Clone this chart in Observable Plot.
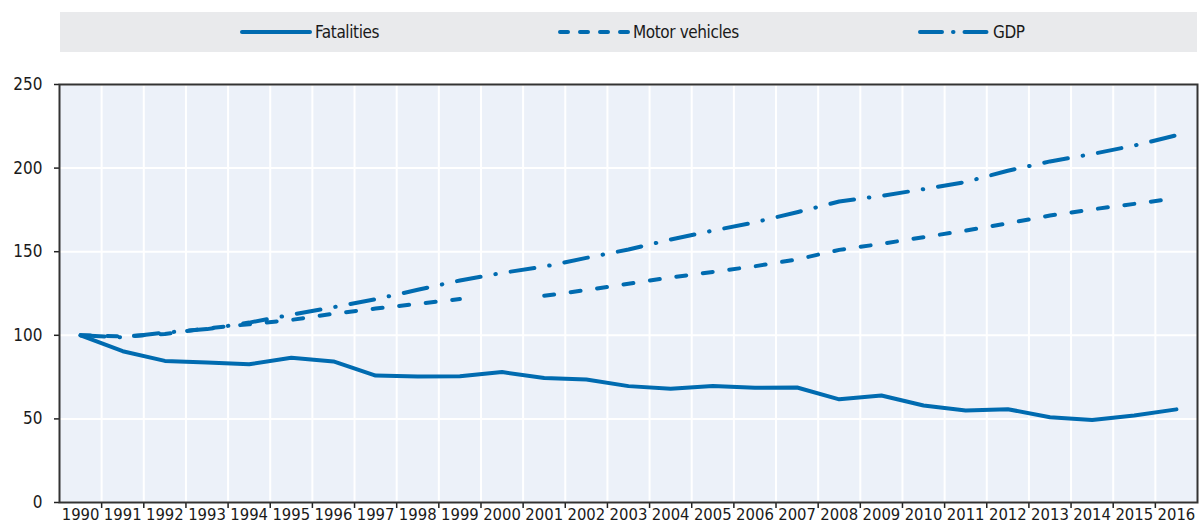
<!DOCTYPE html>
<html>
<head>
<meta charset="utf-8">
<script src="https://cdn.jsdelivr.net/npm/d3@7"></script>
<script src="https://cdn.jsdelivr.net/npm/@observablehq/plot@0.6"></script>
<style>
  html, body { margin: 0; padding: 0; background: #fff; }
  body { width: 1200px; height: 527px; position: relative; overflow: hidden;
         font-family: "DejaVu Sans Condensed", "Liberation Sans Narrow", "Arial Narrow", sans-serif; font-stretch: condensed; }
  #legend { position: absolute; left: 60px; top: 12px; width: 1137px; height: 40px; background: #e9eaec; }
  .item { position: absolute; top: 0; height: 40px; display: flex; align-items: center; font-size: 17px; color: #1a1a1a; letter-spacing: -0.4px; }
  .item svg { margin-right: 3px; }
  #chart { position: absolute; left: 0; top: 60px; }
</style>
</head>
<body>
<div id="legend"></div>
<div id="chart"></div>
<script>
const years = [1990,1991,1992,1993,1994,1995,1996,1997,1998,1999,2000,2001,2002,2003,2004,2005,2006,2007,2008,2009,2010,2011,2012,2013,2014,2015,2016];
const fatalities = [100,90.5,84.7,83.7,82.7,86.6,84.4,75.9,75.3,75.5,78,74.5,73.6,69.6,68,69.7,68.6,68.8,61.7,64,58,55,55.8,51,49.3,52,55.7];
const motorVehicles = [100,99.3,100.8,104.2,106.6,109.2,112.9,116,118.8,121.7,null,123.6,127.1,130.8,134.6,137.9,141.3,145.4,151.1,154.7,158.7,162.6,167,171.6,175.3,178.6,182];
const gdp = [100,98.8,101.6,103.7,107.6,112.3,116.8,121.6,127.2,132.8,137.3,141.1,146.3,151.3,157.3,162.6,167.6,173.6,180,183.4,187.4,191.7,198.4,204,208.4,213.5,219.6];
const seriesNames = ["Fatalities", "Motor vehicles", "GDP"];
const yTicks = [0, 50, 100, 150, 200, 250];

const blue = "#006bb0";
const fontStack = '"DejaVu Sans Condensed", "Liberation Sans Narrow", "Arial Narrow", sans-serif';
const dashes = {"Fatalities": null, "Motor vehicles": "10,16.7", "GDP": "24,15,0.5,15"};
const seriesValues = {"Fatalities": fatalities, "Motor vehicles": motorVehicles, "GDP": gdp};

// legend
const legendPos = {"Fatalities": 240, "Motor vehicles": 558, "GDP": 918};
const legend = document.getElementById("legend");
for (const name of seriesNames) {
  const item = document.createElement("div");
  item.className = "item";
  item.style.left = (legendPos[name] - 60) + "px";
  const sample = name === "Motor vehicles" ? "8,12" : name === "GDP" ? "22,11,0.5,11" : null;
  item.innerHTML = `<svg width="72" height="10"><line x1="2" x2="70" y1="5" y2="5" stroke="${blue}" stroke-width="4" stroke-linecap="round" ${sample ? `stroke-dasharray="${sample}"` : ""}/></svg><span>${name}</span>`;
  legend.appendChild(item);
}

const data = [];
for (const name of seriesNames) {
  years.forEach((yr, i) => data.push({series: name, year: yr, value: seriesValues[name][i]}));
}
const boundaries = years.slice(1).map(y => y - 0.5);

const lineMarks = seriesNames.map(name => Plot.line(data.filter(d => d.series === name), {
  x: "year", y: "value", stroke: blue, strokeWidth: 4,
  strokeDasharray: dashes[name] || undefined, strokeLinecap: "round", strokeLinejoin: "round",
  defined: d => d.value != null
}));

const chart = Plot.plot({
  width: 1200,
  height: 467,
  marginLeft: 59,
  marginRight: 3,
  marginTop: 24,
  marginBottom: 25,
  style: {fontFamily: fontStack, fontSize: "16.5px", color: "#1a1a1a", background: "transparent"},
  x: {domain: [years[0] - 0.5, years[years.length - 1] + 0.5], label: null},
  y: {domain: [0, 250], label: null},
  marks: [
    Plot.frame({fill: "#ecf1f9", stroke: null}),
    Plot.gridX({ticks: boundaries, stroke: "#fff", strokeOpacity: 1, strokeWidth: 2}),
    Plot.gridY({ticks: yTicks, stroke: "#fff", strokeOpacity: 1, strokeWidth: 2}),
    Plot.axisX({ticks: boundaries, tickSize: 6, tickFormat: () => "", label: null, stroke: "#222", strokeWidth: 1.5}),
    Plot.axisX({ticks: years, tickSize: 0, tickPadding: 6, tickFormat: d => String(d), label: null, fontSize: 16.5, fill: "#1a1a1a"}),
    Plot.axisY({ticks: yTicks, tickSize: 5, tickPadding: 12, tickFormat: d => String(d), label: null, fontSize: 17, fill: "#1a1a1a", stroke: "#222", strokeWidth: 1.5}),
    ...lineMarks,
    Plot.frame({stroke: "#333", strokeWidth: 2})
  ]
});
document.getElementById("chart").appendChild(chart);
</script>
</body>
</html>
